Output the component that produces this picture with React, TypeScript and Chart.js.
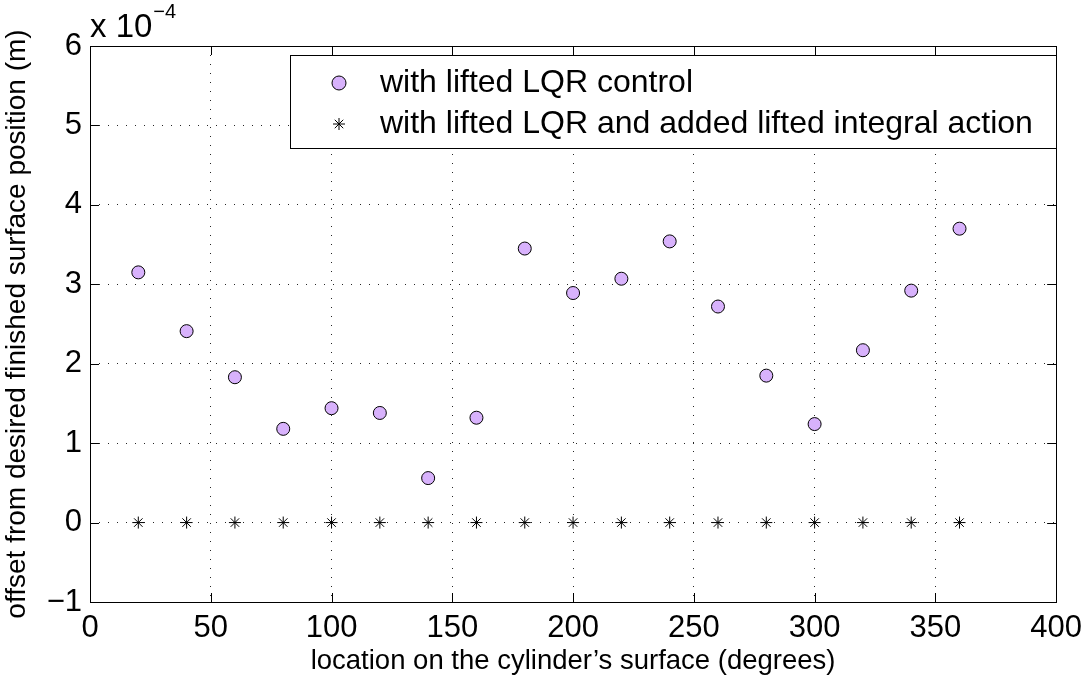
import { useEffect, useRef } from 'react';
import { Chart, registerables } from 'chart.js';

Chart.register(...registerables);

const locations = [20, 40, 60, 80, 100, 120, 140, 160, 180, 200, 220, 240, 260, 280, 300, 320, 340, 360];
const lqrOffsets = [3.15, 2.41, 1.83, 1.18, 1.44, 1.38, 0.56, 1.32, 3.45, 2.89, 3.07, 3.54, 2.72, 1.85, 1.24, 2.17, 2.92, 3.70];
const integralOffsets = [0, 0, 0, 0, 0, 0, 0, 0, 0, 0, 0, 0, 0, 0, 0, 0, 0, 0];
const xTicks = [0, 50, 100, 150, 200, 250, 300, 350, 400];
const yTicks = [-1, 0, 1, 2, 3, 4, 5, 6];
const legendLabels = ['with lifted LQR control', 'with lifted LQR and added lifted integral action'];
const xTitle = 'location on the cylinder\u2019s surface (degrees)';
const yTitle = 'offset from desired finished surface position (m)';
const exponentBase = 'x 10';
const exponentPower = '\u22124';

const FONT = "'Liberation Sans', Arial, Helvetica, sans-serif";
const CIRCLE_FILL = 'rgb(216,178,252)';

function drawStar(ctx: CanvasRenderingContext2D, x: number, y: number, r: number) {
  ctx.beginPath();
  ctx.moveTo(x, y - r);
  ctx.lineTo(x, y + r);
  ctx.moveTo(x - r, y);
  ctx.lineTo(x + r, y);
  const d = r * Math.SQRT1_2;
  ctx.moveTo(x - d, y - d);
  ctx.lineTo(x + d, y + d);
  ctx.moveTo(x - d, y + d);
  ctx.lineTo(x + d, y - d);
  ctx.stroke();
}

const framePlugin = {
  id: 'matlabFrame',
  afterDraw(chart: any) {
    const { ctx, chartArea } = chart;
    const { left, right, top, bottom } = chartArea;
    const xs = chart.scales.x;
    const ys = chart.scales.y;
    ctx.save();
    ctx.strokeStyle = '#000';
    ctx.lineWidth = 1;
    ctx.setLineDash([]);
    // box
    ctx.strokeRect(Math.round(left) + 0.5, Math.round(top) + 0.5, Math.round(right - left), Math.round(bottom - top));
    // inward ticks
    const tl = 9;
    ctx.beginPath();
    xTicks.forEach((v) => {
      const px = Math.round(xs.getPixelForValue(v)) + 0.5;
      ctx.moveTo(px, bottom);
      ctx.lineTo(px, bottom - tl);
      ctx.moveTo(px, top);
      ctx.lineTo(px, top + tl);
    });
    yTicks.forEach((v) => {
      const py = Math.round(ys.getPixelForValue(v)) + 0.5;
      ctx.moveTo(left, py);
      ctx.lineTo(left + tl, py);
      ctx.moveTo(right, py);
      ctx.lineTo(right - tl, py);
    });
    ctx.stroke();

    // exponent label
    ctx.fillStyle = '#000';
    ctx.textBaseline = 'alphabetic';
    ctx.textAlign = 'left';
    ctx.font = `33px ${FONT}`;
    ctx.fillText(exponentBase, left, 37);
    const w = ctx.measureText(exponentBase).width;
    ctx.font = `20px ${FONT}`;
    ctx.fillText(exponentPower, left + w + 1, 18);

    // legend
    const lx = 290.5, ly = 55.5, lw = 766, lh = 93;
    ctx.fillStyle = '#fff';
    ctx.fillRect(lx, ly, lw, lh);
    ctx.strokeStyle = '#000';
    ctx.lineWidth = 1;
    ctx.strokeRect(lx, ly, lw, lh);
    const rowY = [83, 124];
    // circle marker
    ctx.beginPath();
    ctx.arc(339, rowY[0], 7, 0, Math.PI * 2);
    ctx.fillStyle = CIRCLE_FILL;
    ctx.fill();
    ctx.strokeStyle = '#000';
    ctx.stroke();
    // star marker
    ctx.lineWidth = 1;
    drawStar(ctx, 339, rowY[1], 6);
    ctx.fillStyle = '#000';
    ctx.font = `32px ${FONT}`;
    ctx.textBaseline = 'middle';
    ctx.fillText(legendLabels[0], 380, rowY[0]);
    ctx.fillText(legendLabels[1], 380, rowY[1]);
    ctx.restore();
  },
};

export default function App() {
  const canvasRef = useRef<HTMLCanvasElement | null>(null);

  useEffect(() => {
    const canvas = canvasRef.current;
    if (!canvas) return;
    const chart = new Chart(canvas, {
      type: 'scatter',
      data: {
        datasets: [
          {
            label: legendLabels[0],
            data: locations.map((x, i) => ({ x, y: lqrOffsets[i] })),
            pointStyle: 'circle',
            pointRadius: 6.5,
            pointBackgroundColor: CIRCLE_FILL,
            pointBorderColor: '#000',
            pointBorderWidth: 1,
            showLine: false,
          },
          {
            label: legendLabels[1],
            data: locations.map((x, i) => ({ x, y: integralOffsets[i] })),
            pointStyle: 'star',
            pointRadius: 6,
            pointBackgroundColor: '#000',
            pointBorderColor: '#000',
            pointBorderWidth: 1,
            showLine: false,
          },
        ],
      },
      options: {
        responsive: false,
        maintainAspectRatio: false,
        animation: false,
        events: [],
        layout: { padding: { top: 46, right: 33, left: 0, bottom: 0 } },
        plugins: {
          legend: { display: false },
          tooltip: { enabled: false },
        },
        scales: {
          x: {
            type: 'linear',
            min: 0,
            max: 400,
            afterBuildTicks: (s: any) => {
              s.ticks = xTicks.map((v) => ({ value: v }));
            },
            afterFit: (s: any) => {
              s.height = 76;
            },
            ticks: {
              color: '#000',
              font: { family: FONT, size: 31 },
              padding: 8,
              maxRotation: 0,
              autoSkip: false,
            },
            grid: { color: 'rgba(0,0,0,0.85)', lineWidth: 1, drawTicks: false },
            border: { display: false, dash: [1, 8] },
            title: {
              display: true,
              text: xTitle,
              color: '#000',
              font: { family: FONT, size: 27.5 },
              padding: { top: 0, bottom: 0 },
            },
          },
          y: {
            type: 'linear',
            min: -1,
            max: 6,
            afterBuildTicks: (s: any) => {
              s.ticks = yTicks.map((v) => ({ value: v }));
            },
            afterFit: (s: any) => {
              s.width = 90;
            },
            ticks: {
              color: '#000',
              font: { family: FONT, size: 31 },
              padding: 8,
              autoSkip: false,
              callback: (v: any) => (Number(v) < 0 ? '\u2212' + Math.abs(Number(v)) : String(v)),
            },
            grid: { color: 'rgba(0,0,0,0.85)', lineWidth: 1, drawTicks: false },
            border: { display: false, dash: [1, 8] },
            title: {
              display: true,
              text: yTitle,
              color: '#000',
              font: { family: FONT, size: 28 },
              padding: { top: 0, bottom: 0 },
            },
          },
        },
      },
      plugins: [framePlugin],
    });
    return () => chart.destroy();
  }, []);

  return (
    <div style={{ position: 'fixed', left: 0, top: 0, width: 1090, height: 678, background: '#fff' }}>
      <canvas ref={canvasRef} width={1090} height={678} style={{ width: 1090, height: 678, display: 'block' }} />
    </div>
  );
}
